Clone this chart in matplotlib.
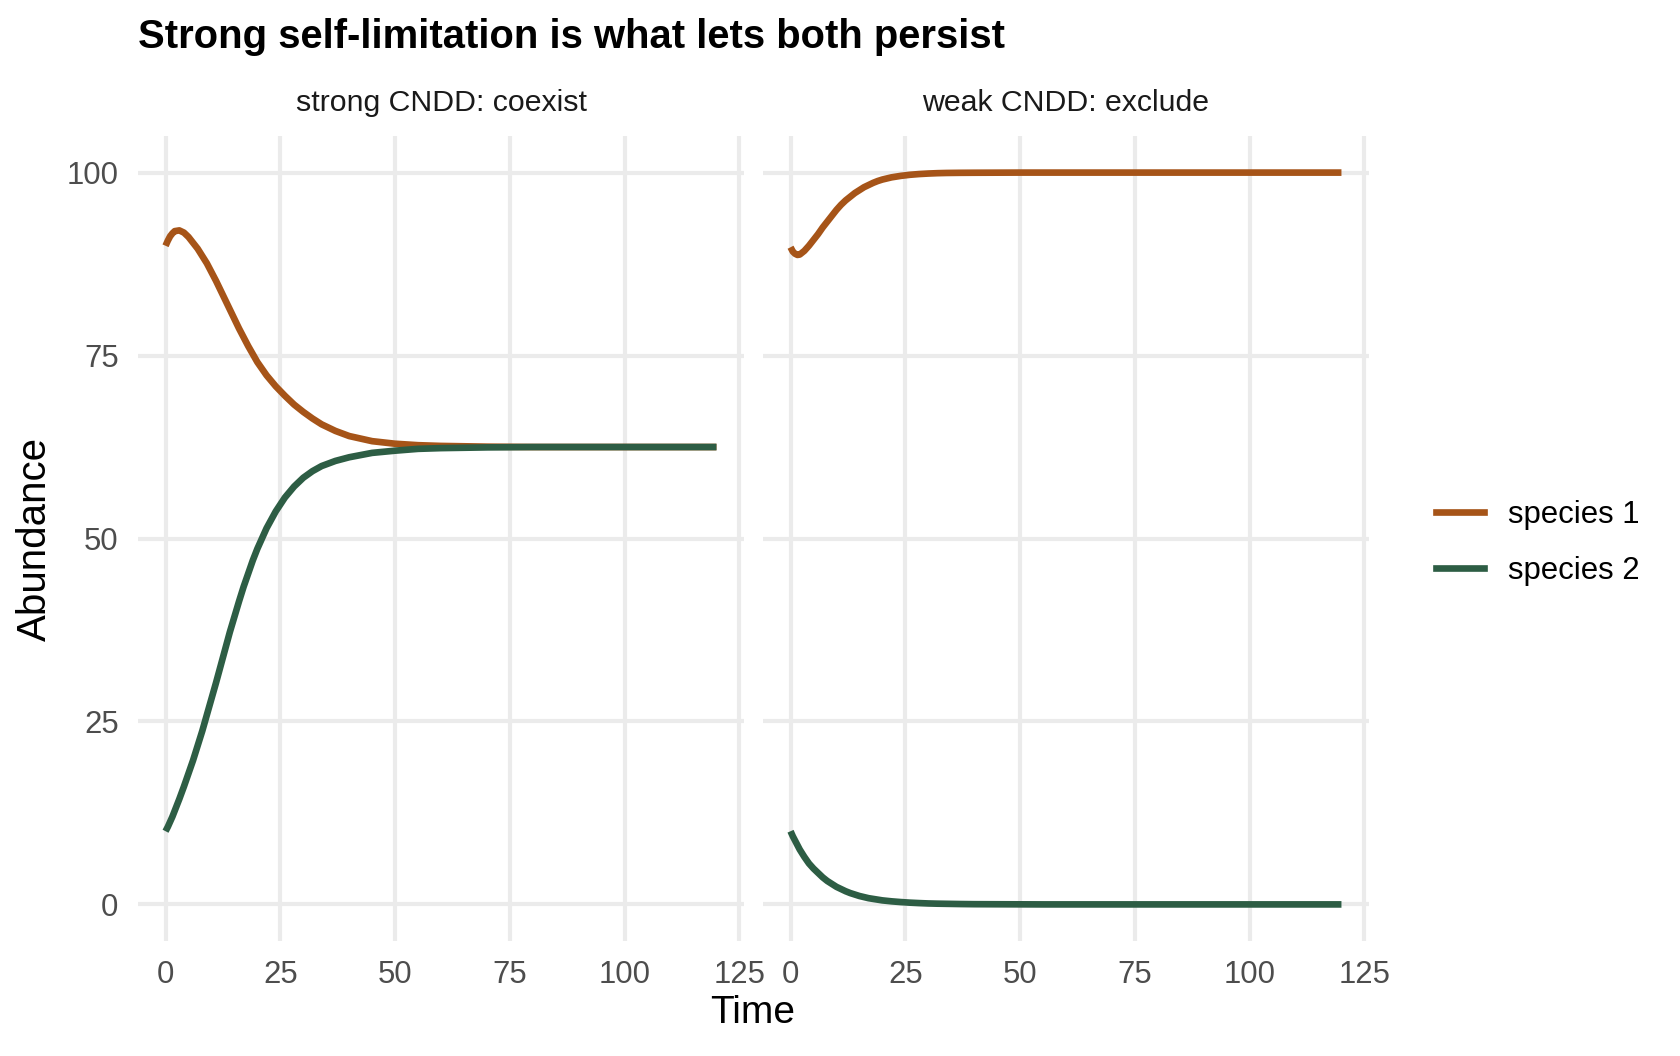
import matplotlib
matplotlib.use("Agg")
import matplotlib.pyplot as plt
from matplotlib.lines import Line2D

plt.rcParams['font.family'] = ['Liberation Sans', 'DejaVu Sans']

# ---- data ----
time = [0, 0.5, 1, 1.5, 2, 3, 4, 5, 6, 7, 8, 9, 10, 11, 12, 13, 14, 15, 16, 17, 18, 19, 20,
        22, 24, 26, 28, 30, 32, 34, 37, 40, 45, 50, 55, 60, 70, 80, 90, 100, 110, 120]

strong_sp1 = [90.0, 90.7, 91.3, 91.7, 92.0, 92.1, 91.8, 91.2, 90.4, 89.6, 88.6, 87.6, 86.4, 85.2, 83.9,
              82.6, 81.3, 80.0, 78.7, 77.5, 76.3, 75.2, 74.1,
              72.3, 70.8, 69.5, 68.3, 67.3, 66.4, 65.6, 64.7, 64.0, 63.3, 62.95, 62.75, 62.65, 62.55,
              62.5, 62.5, 62.5, 62.5, 62.5]
strong_sp2 = [10.0, 10.6, 11.3, 12.0, 12.8, 14.4, 16.1, 17.9, 19.7, 21.7, 23.7, 25.9, 28.1, 30.3, 32.6,
              34.9, 37.2, 39.3, 41.4, 43.4, 45.2, 47.0, 48.6,
              51.4, 53.7, 55.6, 57.1, 58.3, 59.2, 59.9, 60.6, 61.1, 61.7, 62.0, 62.25, 62.35, 62.45,
              62.5, 62.5, 62.5, 62.5, 62.5]

weak_sp1 = [89.8, 89.2, 88.9, 88.75, 88.8, 89.3, 90.0, 90.8, 91.6, 92.5, 93.3, 94.1, 94.9, 95.6, 96.2,
            96.7, 97.2, 97.6, 98.0, 98.3, 98.6, 98.85, 99.05,
            99.35, 99.55, 99.7, 99.8, 99.87, 99.92, 99.95, 99.97, 99.98, 99.99, 100.0, 100.0, 100.0,
            100.0, 100.0, 100.0, 100.0, 100.0, 100.0]
weak_sp2 = [10.0, 9.3, 8.7, 8.1, 7.5, 6.5, 5.6, 4.9, 4.3, 3.7, 3.2, 2.8, 2.4, 2.1, 1.8,
            1.55, 1.35, 1.15, 1.0, 0.85, 0.75, 0.65, 0.55,
            0.42, 0.32, 0.24, 0.18, 0.13, 0.10, 0.08, 0.05, 0.03, 0.02, 0.01, 0.0, 0.0,
            0.0, 0.0, 0.0, 0.0, 0.0, 0.0]

panel_titles = ["strong CNDD: coexist", "weak CNDD: exclude"]
species = ["species 1", "species 2"]
colors = ["#A65418", "#2D5D44"]
x_ticks = [0, 25, 50, 75, 100, 125]
y_ticks = [0, 25, 50, 75, 100]

title = "Strong self-limitation is what lets both persist"
x_label = "Time"
y_label = "Abundance"

# ---- figure ----
W, H = 1680, 1056
fig = plt.figure(figsize=(W / 200, H / 200), dpi=200)

def frac(x0, y0, x1, y1):
    return [x0 / W, 1 - y1 / H, (x1 - x0) / W, (y1 - y0) / H]

ax1 = fig.add_axes(frac(138, 136, 744, 941))
ax2 = fig.add_axes(frac(763, 136, 1369, 941))

grid_col = "#EBEBEB"
series = [(strong_sp1, strong_sp2), (weak_sp1, weak_sp2)]
for i, (ax, (s1, s2)) in enumerate(zip([ax1, ax2], series)):
    ax.set_xlim(-6, 126)
    ax.set_ylim(-5, 105)
    ax.set_xticks(x_ticks)
    ax.set_yticks(y_ticks)
    ax.grid(True, color=grid_col, linewidth=1.5, zorder=0)
    for sp in ax.spines.values():
        sp.set_visible(False)
    ax.tick_params(length=0, labelsize=11.2, colors="#4D4D4D", pad=7)
    ax.plot(time, s1, color=colors[0], linewidth=2.4, solid_capstyle='butt',
            solid_joinstyle='round', zorder=3)
    ax.plot(time, s2, color=colors[1], linewidth=2.4, solid_capstyle='butt',
            solid_joinstyle='round', zorder=3)
    ax.set_title(panel_titles[i], fontsize=10.9, color="#1A1A1A", pad=9)
    ax.set_axisbelow(True)

ax2.tick_params(labelleft=False)

fig.text(138 / W, 1 - 37 / H, title, fontsize=14.4, fontweight='bold', ha='left', va='center')
fig.text(753 / W, 1 - 1013 / H, x_label, fontsize=14, ha='center', va='center')
fig.text(35 / W, 1 - 539 / H, y_label, fontsize=14.5, ha='center', va='center', rotation=90)

handles = [Line2D([0], [0], color=c, linewidth=2.4) for c in colors]
fig.legend(handles, species, loc='center left', bbox_to_anchor=(1408 / W, 1 - 543 / H),
           frameon=False, fontsize=11.2, handlelength=1.55, handletextpad=0.75, labelspacing=0.86)

fig.savefig("out.png", dpi=200)
